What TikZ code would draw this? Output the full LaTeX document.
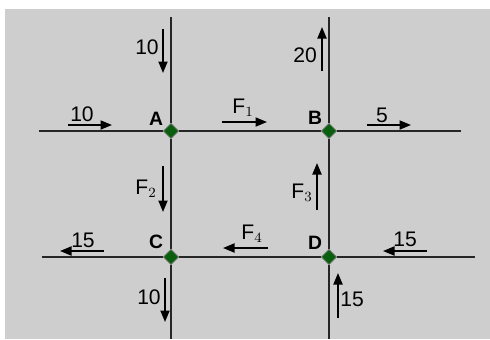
\documentclass[tikz,border=0pt]{standalone}
\usepackage{fontspec}
\setmainfont{Liberation Sans}
\usetikzlibrary{arrows.meta, shapes.geometric}
\definecolor{panelgray}{RGB}{206,206,206}
\definecolor{junctiongreen}{RGB}{10,95,15}
\tikzset{
  pipe/.style={line width=0.5mm, black!85},
  flow/.style={line width=0.38mm, -{Triangle[length=2.3mm,width=1.8mm]}},
  junction/.style={diamond, draw=black!50, fill=junctiongreen, minimum size=3.1mm, inner sep=0pt},
  num/.style={font=\fontsize{12}{14}\selectfont},
  tag/.style={font=\fontsize{11}{13}\selectfont\bfseries},
  unk/.style={font=\fontsize{12}{14}\selectfont},
}

\begin{document}
\begin{tikzpicture}[x=0.2mm, y=-0.2mm]
\useasboundingbox (0,0) rectangle (490,339);
\fill[panelgray] (5,9) rectangle (490,339);
% junctions
\node[junction] (A) at (171,131) {};
\node[junction] (B) at (329,131) {};
\node[junction] (C) at (171,257) {};
\node[junction] (D) at (329,257) {};
% free ends of the pipes
\coordinate (Aw) at (39,131);
\coordinate (An) at (171,17);
\coordinate (Bn) at (329,17);
\coordinate (Be) at (461,131);
\coordinate (Cw) at (42,257);
\coordinate (Cs) at (171,339);
\coordinate (Ds) at (329,339);
\coordinate (De) at (475,257);
% pipes
\draw[pipe] (Aw) -- (A) -- (B) -- (Be);
\draw[pipe] (Cw) -- (C) -- (D) -- (De);
\draw[pipe] (An) -- (A) -- (C) -- (Cs);
\draw[pipe] (Bn) -- (B) -- (D) -- (Ds);
% junction names
\node[tag] (tA) at (156,119) {A};
\node[tag] (tB) at (315,118) {B};
\node[tag] (tC) at (156,242) {C};
\node[tag] (tD) at (315,243) {D};
% flows at A
\draw[flow] ([shift={(-103,-6)}]A.center) -- ++(44,0);
\node[num] (qAw) at (82,114) {10};
\draw[flow] ([shift={(-8,-102)}]A.center) -- ++(0,44);
\node[num] (qAn) at (147,47) {10};
\draw[flow] ([shift={(51,-9)}]A.center) -- ++(45,0);
\node[unk] (f1) at (243,108) {$\mathrm{F}_1$};
\draw[flow] ([shift={(-8,35)}]A.center) -- ++(0,46);
\node[unk] (f2) at (146,189) {$\mathrm{F}_2$};
% flows at B
\draw[flow] ([shift={(-7,-60)}]B.center) -- ++(0,-44);
\node[num] (qBn) at (305,55) {20};
\draw[flow] ([shift={(38,-6)}]B.center) -- ++(44,0);
\node[num] (qBe) at (382,115) {5};
\draw[flow] ([shift={(-12,79)}]B.center) -- ++(0,-47);
\node[unk] (f3) at (302,193) {$\mathrm{F}_3$};
% flows at C
\draw[flow] ([shift={(-67,-6)}]C.center) -- ++(-44,0);
\node[num] (qCw) at (83,240) {15};
\draw[flow] ([shift={(-6,21)}]C.center) -- ++(0,44);
\node[num] (qCs) at (149,297) {10};
% flows at D
\draw[flow] ([shift={(-61,-9)}]D.center) -- ++(-45,0);
\node[unk] (f4) at (252,234) {$\mathrm{F}_4$};
\draw[flow] ([shift={(98,-6)}]D.center) -- ++(-44,0);
\node[num] (qDe) at (405,239) {15};
\draw[flow] ([shift={(9,61)}]D.center) -- ++(0,-45);
\node[num] (qDs) at (352,299) {15};
\end{tikzpicture}
\end{document}
